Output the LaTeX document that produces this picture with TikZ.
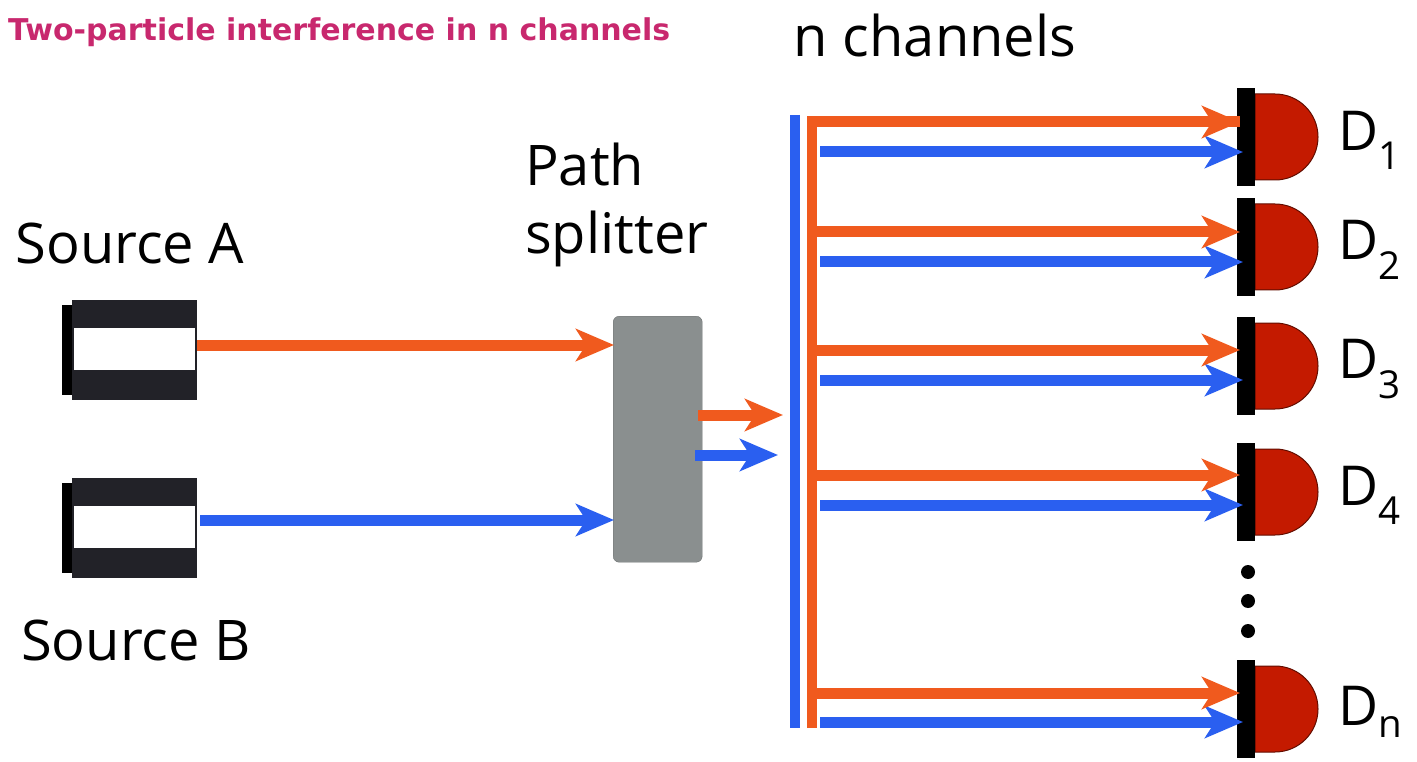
\documentclass[tikz,border=0pt]{standalone}
\usepackage{fontspec}
\setmainfont{Open Sans}
\newfontfamily\titlefont{DejaVu Sans}
\usetikzlibrary{arrows.meta}
\definecolor{orng}{HTML}{F05A1E}
\definecolor{blu}{HTML}{2A5FF0}
\definecolor{ttl}{HTML}{C8286E}
\definecolor{dred}{HTML}{C41A00}
\definecolor{gry}{HTML}{8A8F8F}
\definecolor{srcc}{HTML}{222228}
\begin{document}
\begin{tikzpicture}[x=1pt,y=-1pt,
  beam/.style={line width=11pt,-{Stealth[length=38pt,width=32pt,inset=10pt]}},
  ob/.style={beam,draw=orng},
  bb/.style={beam,draw=blu},
  lbl/.style={font=\fontsize{56}{68}\selectfont,inner sep=0pt},
  dlbl/.style={font=\fontsize{55}{60}\selectfont,inner sep=0pt,anchor=west}]
\useasboundingbox (0,0) rectangle (1417,762);
\node[anchor=west,font=\titlefont\bfseries\fontsize{30}{33}\selectfont,text=ttl,inner sep=0pt] (title) at (8,32) {Two-particle interference in n channels};
\node[lbl] (nch) at (935,36) {n channels};
\node[lbl] (sa) at (130,243) {Source A};
\node[lbl] (sb) at (136,640) {Source B};
\node[lbl,align=left,anchor=west] (ps) at (525,205) {Path\\splitter};
% sources
\foreach \y/\n in {300/A,478/B}{
  \fill[black] (62,\y+5) rectangle (74,\y+95);
  \fill[srcc] (72,\y) rectangle (197,\y+100);
  \fill[white] (74,\y+28) rectangle (195,\y+70);
}
\coordinate (srcA) at (197,345);
\coordinate (srcB) at (200,520);
% splitter
\node[draw=gry!80!black,fill=gry,rounded corners=6pt,minimum width=89pt,minimum height=246pt,anchor=north west,inner sep=0pt] (spl) at (613,316) {};
\coordinate (inA) at (614,345);
\coordinate (inB) at (614,520);
\draw[ob] (srcA) -- (inA);
\draw[bb] (srcB) -- (inB);
\coordinate (oa) at (698,415); \coordinate (oae) at (783,415);
\coordinate (ba) at (695,455); \coordinate (bae) at (778,455);
\draw[ob] (oa) -- (oae);
\draw[bb] (ba) -- (bae);
% vertical lines
\coordinate (vb1) at (795,115); \coordinate (vb2) at (795,728);
\draw[blu,line width=10pt] (vb1) -- (vb2);
\coordinate (vo1) at (812,117); \coordinate (vo2) at (812,728);
\draw[orng,line width=10pt] (vo2) -- (vo1);
% detectors
\foreach \t/\o/\b/\i in {88/122/152/1,198/232/262/2,317/350/380/3,443/475/505/4,660/693/722/n}{
  \fill[dred,draw=dred!50!black,line width=1pt] (1255,\t+6) -- (1275,\t+6) arc[start angle=-90,end angle=90,radius=43] -- (1255,\t+92) -- cycle;
  \node[fill=black,inner sep=0pt,minimum width=18pt,minimum height=98pt,anchor=north west] (det\i) at (1237,\t) {};
  \node[dlbl] (D\i) at (1338,\t+52) {D$_{\mathrm{\i}}$};
  \coordinate (os\i) at (817,\o); \coordinate (oe\i) at (1240,\o);
  \coordinate (bs\i) at (820,\b); \coordinate (be\i) at (1243,\b);
  \draw[bb] (bs\i) -- (be\i);
}
\draw[orng,line width=11pt] (807,122) -- (oe1);
\draw[ob] (os1) -- (oe1);
\foreach \i in {2,3,4,n}{\draw[ob] (os\i) -- (oe\i);}
\foreach \y in {572,601,631}{\fill (1248,\y) circle (7);}
\end{tikzpicture}
\end{document}
